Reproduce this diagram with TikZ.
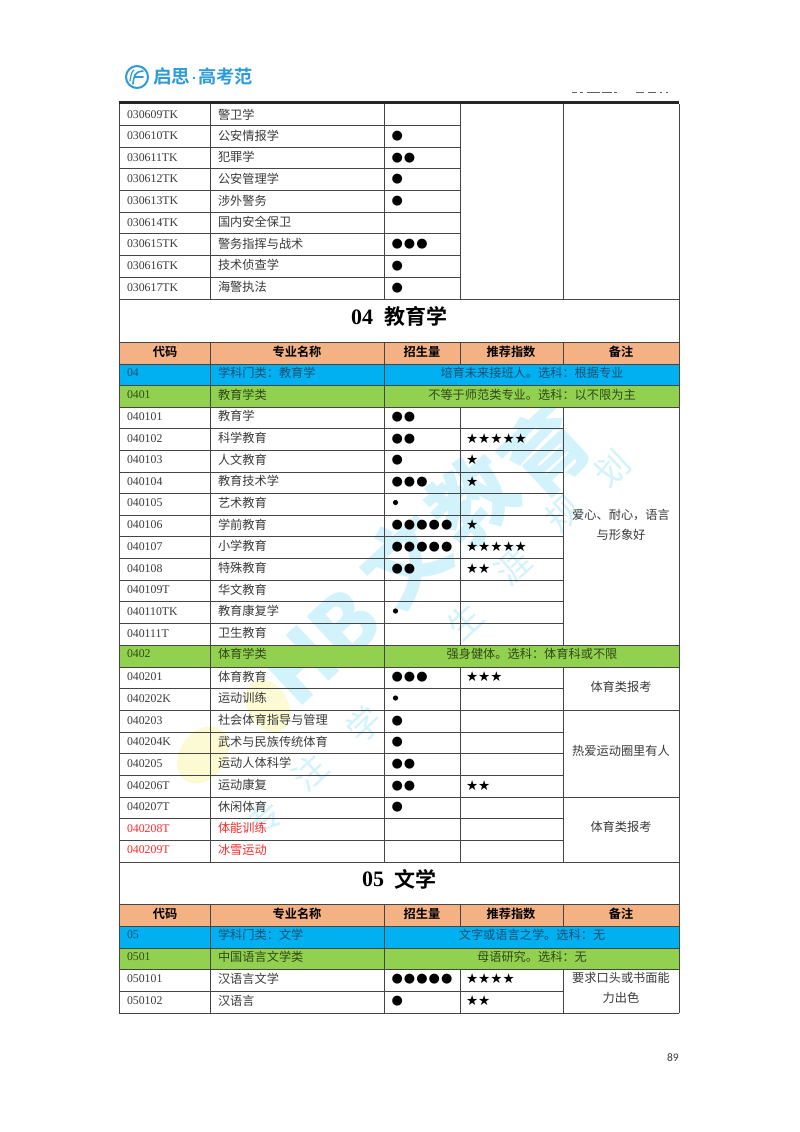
\documentclass[tikz,border=0pt]{standalone}
\usepackage{fontspec}
\setmainfont{Liberation Serif}
\newfontfamily\cjk{Noto Sans CJK SC}
\newfontfamily\cjkb{Noto Sans CJK SC Bold}
\newfontfamily\cjkk{Noto Sans CJK SC Black}
\newfontfamily\codef{Liberation Serif}
\newfontfamily\dotf[LetterSpace=8]{DejaVu Sans}
\newfontfamily\symf{DejaVu Sans}
\newfontfamily\pagef{Carlito}
\newcommand\fwcolon{\symbol{"FF1A}}
\newcommand\fwcomma{\symbol{"FF0C}}
\definecolor{txt}{HTML}{3A3A3A}
\definecolor{lin}{HTML}{454545}
\definecolor{hdr}{HTML}{F4B183}
\definecolor{blu}{HTML}{00B0F0}
\definecolor{grn}{HTML}{92D050}
\definecolor{redt}{HTML}{FF2A2A}
\definecolor{wm}{HTML}{D2F3FB}
\definecolor{wmy}{HTML}{FCFAD2}
\definecolor{logo}{HTML}{2E9BDA}
\definecolor{blt}{HTML}{1B4F70}
\definecolor{grt}{HTML}{2F4A18}
\tikzset{
 base/.style={inner sep=0,outer sep=0,anchor=base west},
 mid/.style={inner sep=0,outer sep=0,anchor=base},
 gridl/.style={draw=lin,line width=0.9pt},
 wmbig/.style={inner sep=0,rotate=43,text=wm,font=\cjkk\fontsize{84}{84}\selectfont},
 wmsm/.style={inner sep=0,rotate=43,text=wm,font=\cjk\fontsize{34}{34}\selectfont},
}
\newcommand\fc{\cjk\fontsize{12.2}{14}\selectfont}
\newcommand\fb{\cjkb\fontsize{12.2}{14}\selectfont}
\newcommand\fm{\codef\fontsize{11.8}{13}\selectfont}
% row: [colour]{centre y}{code}{name}{dots}{stars}
\newcommand\rw[6][txt]{%
 \node[base,text=#1,font=\fm] at (127,#2+4) {#3};
 \node[base,text=#1,font=\fc] at (218,#2+4.5) {#4};
 \node[base,font=\dotf\fontsize{13}{14}\selectfont] at (391.5,#2+4) {#5};
 \node[base,font=\symf\fontsize{13.6}{16}\selectfont] at (466,#2+5) {#6};
}
\newcommand\rwb[4][txt]{% row with small dot
 \node[base,text=#1,font=\fm] at (127,#2+4) {#3};
 \node[base,text=#1,font=\fc] at (218,#2+4.5) {#4};
 \node[inner sep=0,circle,fill=black,minimum size=5.2pt] at (395.5,#2) {};
}
\newcommand\hd[1]{%
 \fill[hdr] (119,#1) rectangle (679,#1+22);
 \node[mid,font=\fb] at (165,#1+14) {代码};
 \node[mid,font=\fb] at (297,#1+14) {专业名称};
 \node[mid,font=\fb] at (422,#1+14) {招生量};
 \node[mid,font=\fb] at (511,#1+14) {推荐指数};
 \node[mid,font=\fb] at (621,#1+14) {备注};
}
\newcommand\band[6]{% colour, text colour, y, code, name, note
 \fill[#1] (119,#3) rectangle (679,#3+21.6);
 \node[base,text=#2,font=\fm] at (127,#3+12.8) {#4};
 \node[base,text=#2,font=\fc] at (218,#3+13.5) {#5};
 \node[mid,text=#2,font=\fc] at (532,#3+13.5) {#6};
}
\begin{document}
\begin{tikzpicture}[x=1pt,y=-1pt]
\useasboundingbox (0,0) rectangle (800,1132);
\fill[white] (0,0) rectangle (800,1132);
% watermark
\fill[wmy,rotate around={-35:(203,755)}] (203,755) ellipse (23 and 31);
\fill[wmy,rotate around={30:(268,706)}] (268,706) ellipse (20 and 28);
\node[wmbig] at (300,665) {H};
\node[wmbig] at (345,625) {B};
\node[wmbig] at (405,560) {文};
\node[wmbig] at (473,500) {教};
\node[wmbig] at (545,450) {育};
\node[wmsm] at (265,818) {专};
\node[wmsm] at (310,772) {注};
\node[wmsm] at (364,724) {学};
\node[wmsm] at (465,621) {生};
\node[wmsm] at (513,567) {涯};
\node[wmsm] at (563,514) {规};
\node[wmsm] at (612,468) {划};
% logo
\draw[logo,line width=2pt] (137,77) circle (11);
\draw[logo,line width=1.6pt,line cap=round] (133,84) .. controls (134,76) and (134,72) .. (143,71);
\draw[logo,line width=1.6pt,line cap=round] (135,77) -- (143,77);
\draw[logo,line width=1.2pt,line cap=round] (130,81) .. controls (131,76) and (131,72) .. (134,70);
\node[base,text=logo,font=\cjkb\fontsize{18.6}{20}\selectfont] at (153,84) {启思};
\fill[logo] (194,78) circle (1.4);
\node[base,text=logo,font=\cjkb\fontsize{18.2}{20}\selectfont] at (198,84) {高考范};
% cropped running header
\foreach \a/\b in {572/577,580/583,587/600,602/612,614/617,636/644,648/656,660/662,666/668}
  \draw[txt!80,line width=0.6pt] (\a,92) -- (\b,92);
% fills
\hd{342}
\band{blu}{blt}{364}{04}{学科门类\fwcolon 教育学}{培育未来接班人。选科\fwcolon 根据专业}
\band{grn}{grt}{385.6}{0401}{教育学类}{不等于师范类专业。选科\fwcolon 以不限为主}
\band{grn}{grt}{645}{0402}{体育学类}{强身健体。选科\fwcolon 体育科或不限}
\hd{904}
\band{blu}{blt}{926}{05}{学科门类\fwcolon 文学}{文字或语言之学。选科\fwcolon 无}
\band{grn}{grt}{948}{0501}{中国语言文学类}{母语研究。选科\fwcolon 无}
% grid: full width lines
\foreach \y in {299,342,364,385.6,407.2,645,667,862,904,926,948,969.5,1013}
  \draw[gridl] (119,\y) -- (679,\y);
% lines up to column 3
\foreach \y in {125.5,147,168.5,190.5,212,233.5,255,277}
  \draw[gridl] (119,\y) -- (460,\y);
% lines up to column 4
\foreach \y in {428.8,450.4,472,493.6,515.2,536.8,558.4,580,601.6,623.2,688.6,732.2,753.8,775.4,818.6,840.2,991}
  \draw[gridl] (119,\y) -- (563,\y);
\foreach \y in {710.4,797}
  \draw[gridl] (119,\y) -- (679,\y);
% verticals
\foreach \x in {119,679} \draw[gridl] (\x,104) -- (\x,1013);
\foreach \x/\a/\b in {210.5/104/299,384.5/104/299,460/104/299,563/104/299,
  210.5/342/407.2,384.5/342/407.2,460/342/364,563/342/364,
  210.5/407.2/862,384.5/407.2/862,460/407.2/645,563/407.2/645,
  460/667/862,563/667/862,
  210.5/904/1013,384.5/904/1013,460/904/926,563/904/926,460/969.5/1013,563/969.5/1013}
  \draw[gridl] (\x,\a) -- (\x,\b);
\draw[draw=black!85,line width=3pt] (119,102.5) -- (679,102.5);
% upper block
\rw{114.5}{030609TK}{警卫学}{}{}
\rw{135.5}{030610TK}{公安情报学}{●}{}
\rw{157.2}{030611TK}{犯罪学}{●●}{}
\rw{178.8}{030612TK}{公安管理学}{●}{}
\rw{200.5}{030613TK}{涉外警务}{●}{}
\rw{222}{030614TK}{国内安全保卫}{}{}
\rw{243.5}{030615TK}{警务指挥与战术}{●●●}{}
\rw{265.2}{030616TK}{技术侦查学}{●}{}
\rw{287}{030617TK}{海警执法}{●}{}
% heading 04
\node[base,font=\codef\bfseries\fontsize{22}{24}\selectfont] at (351,324) {04};
\node[base,font=\cjkb\fontsize{21}{22}\selectfont] at (384,324.5) {教育学};
% block 0401
\rw{416}{040101}{教育学}{●●}{}
\rw{438}{040102}{科学教育}{●●}{★★★★★}
\rw{459.5}{040103}{人文教育}{●}{★}
\rw{481}{040104}{教育技术学}{●●●}{★}
\rwb{502.5}{040105}{艺术教育}
\rw{524.5}{040106}{学前教育}{●●●●●}{★}
\rw{546}{040107}{小学教育}{●●●●●}{★★★★★}
\rw{568}{040108}{特殊教育}{●●}{★★}
\rw{589.5}{040109T}{华文教育}{}{}
\rwb{611}{040110TK}{教育康复学}
\rw{633}{040111T}{卫生教育}{}{}
\node[mid,text=txt,font=\fc] at (621,519) {爱心、耐心\fwcomma 语言};
\node[mid,text=txt,font=\fc] at (621,539) {与形象好};
% block 0402
\rw{676.5}{040201}{体育教育}{●●●}{★★★}
\rwb{698}{040202K}{运动训练}
\rw{720}{040203}{社会体育指导与管理}{●}{}
\rw{741.5}{040204K}{武术与民族传统体育}{●}{}
\rw{763}{040205}{运动人体科学}{●●}{}
\rw{785}{040206T}{运动康复}{●●}{★★}
\rw{806.5}{040207T}{休闲体育}{●}{}
\rw[redt]{828}{040208T}{体能训练}{}{}
\rw[redt]{849.5}{040209T}{冰雪运动}{}{}
\node[mid,text=txt,font=\fc] at (621,691.5) {体育类报考};
\node[mid,text=txt,font=\fc] at (621,755.5) {热爱运动圈里有人};
\node[mid,text=txt,font=\fc] at (621,831.5) {体育类报考};
% heading 05
\node[base,font=\codef\bfseries\fontsize{22}{24}\selectfont] at (362,886) {05};
\node[base,font=\cjkb\fontsize{21}{22}\selectfont] at (394,887) {文学};
% block 0501
\rw{978.5}{050101}{汉语言文学}{●●●●●}{★★★★}
\rw{1000.5}{050102}{汉语言}{●}{★★}
\node[mid,text=txt,font=\fc] at (621,982.5) {要求口头或书面能};
\node[mid,text=txt,font=\fc] at (621,1002.5) {力出色};
% page number
\node[inner sep=0,anchor=base east,text=txt,font=\pagef\fontsize{11.5}{12}\selectfont] at (679,1061) {89};
\end{tikzpicture}
\end{document}
